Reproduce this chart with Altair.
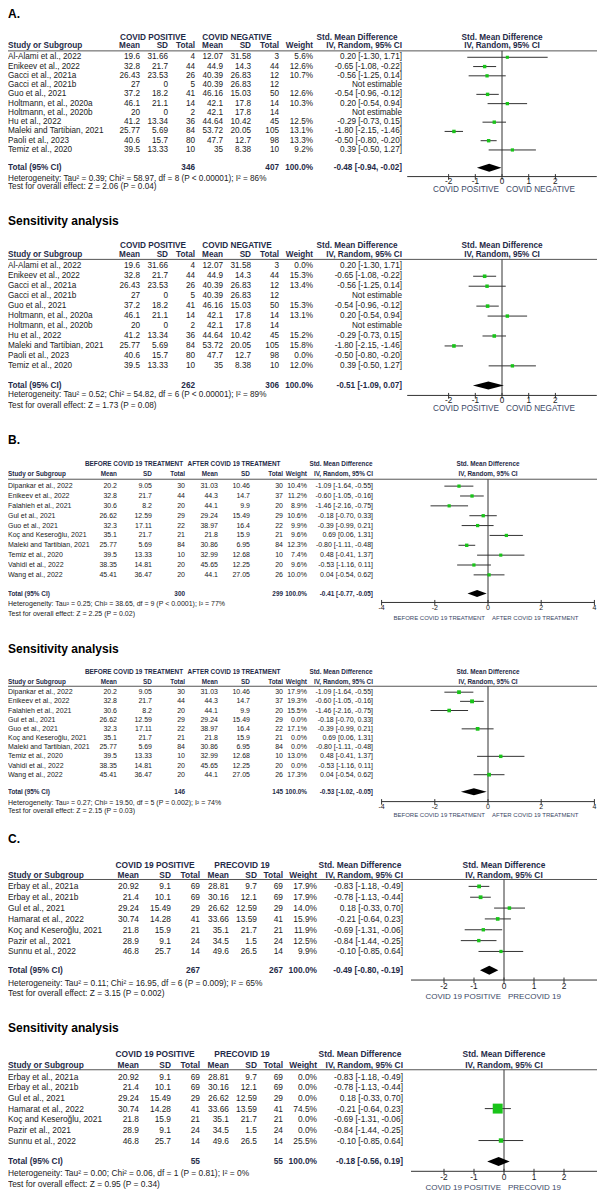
import altair as alt
import pandas as pd

# ======================= DATA =======================
# ---- A. COVID positive vs COVID negative ----
A_studies = ["Al-Alami et al., 2022", "Enikeev et al., 2022", "Gacci et al., 2021a", "Gacci et al., 2021b",
             "Guo et al., 2021", "Holtmann, et al., 2020a", "Holtmann, et al., 2020b", "Hu et al., 2022",
             "Maleki and Tartibian, 2021", "Paoli et al., 2023", "Temiz et al., 2020"]
A_pos_mean = [19.6, 32.8, 26.43, 27, 37.2, 46.1, 20, 41.2, 25.77, 40.6, 39.5]
A_pos_sd = [31.66, 21.7, 23.53, 0, 18.2, 21.1, 0, 13.34, 5.69, 15.7, 13.33]
A_pos_n = [4, 44, 26, 5, 41, 14, 2, 36, 84, 80, 10]
A_neg_mean = [12.07, 44.9, 40.39, 40.39, 46.16, 42.1, 42.1, 44.64, 53.72, 47.7, 35]
A_neg_sd = [31.58, 14.3, 26.83, 26.83, 15.03, 17.8, 17.8, 10.42, 20.05, 12.7, 8.38]
A_neg_n = [3, 44, 12, 12, 50, 14, 14, 45, 105, 98, 10]
A_smd = [0.20, -0.65, -0.56, None, -0.54, 0.20, None, -0.29, -1.80, -0.50, 0.39]
A_lo = [-1.30, -1.08, -1.25, None, -0.96, -0.54, None, -0.73, -2.15, -0.80, -0.50]
A_hi = [1.71, -0.22, 0.14, None, -0.12, 0.94, None, 0.15, -1.46, -0.20, 1.27]
A_weight = [5.6, 12.6, 10.7, None, 12.6, 10.3, None, 12.5, 13.1, 13.3, 9.2]
A_sens_weight = [0.0, 15.3, 13.4, None, 15.3, 13.1, None, 15.2, 15.8, 0.0, 12.0]
A_total_n = [346, 407]
A_total = [-0.48, -0.94, -0.02]
A_sens_total_n = [262, 306]
A_sens_total = [-0.51, -1.09, 0.07]
A_het = "Heterogeneity: Tau² = 0.39; Chi² = 58.97, df = 8 (P < 0.00001); I² = 86%"
A_test = "Test for overall effect: Z = 2.06 (P = 0.04)"
A_sens_het = "Heterogeneity: Tau² = 0.52; Chi² = 54.82, df = 6 (P < 0.00001); I² = 89%"
A_sens_test = "Test for overall effect: Z = 1.73 (P = 0.08)"
A_groups = ["COVID POSITIVE", "COVID NEGATIVE"]
A_ticks = [-2, -1, 0, 1, 2]

# ---- B. Before vs after COVID 19 treatment ----
B_studies = ["Dipankar et al., 2022", "Enikeev et al., 2022", "Falahieh et al., 2021", "Gul et al., 2021",
             "Guo et al., 2021", "Koç and Keseroğlu, 2021", "Maleki and Tartibian, 2021", "Temiz et al., 2020",
             "Vahidi et al., 2022", "Wang et al., 2022"]
B_before_mean = [20.2, 32.8, 30.6, 26.62, 32.3, 35.1, 25.77, 39.5, 38.35, 45.41]
B_before_sd = [9.05, 21.7, 8.2, 12.59, 17.11, 21.7, 5.69, 13.33, 14.81, 36.47]
B_before_n = [30, 44, 20, 29, 22, 21, 84, 10, 20, 20]
B_after_mean = [31.03, 44.3, 44.1, 29.24, 38.97, 21.8, 30.86, 32.99, 45.65, 44.1]
B_after_sd = [10.46, 14.7, 9.9, 15.49, 16.4, 15.9, 6.95, 12.68, 12.25, 27.05]
B_after_n = [30, 37, 20, 29, 22, 21, 84, 10, 20, 26]
B_smd = [-1.09, -0.60, -1.46, -0.18, -0.39, 0.69, -0.80, 0.48, -0.53, 0.04]
B_lo = [-1.64, -1.05, -2.16, -0.70, -0.99, 0.06, -1.11, -0.41, -1.16, -0.54]
B_hi = [-0.55, -0.16, -0.75, 0.33, 0.21, 1.31, -0.48, 1.37, 0.11, 0.62]
B_weight = [10.4, 11.2, 8.9, 10.6, 9.9, 9.6, 12.3, 7.4, 9.6, 10.0]
B_sens_weight = [17.9, 19.3, 15.5, 0.0, 17.1, 0.0, 0.0, 13.0, 0.0, 17.3]
B_total_n = [300, 299]
B_total = [-0.41, -0.77, -0.05]
B_sens_total_n = [146, 145]
B_sens_total = [-0.53, -1.02, -0.05]
B_het = "Heterogeneity: Tau² = 0.25; Chi² = 38.65, df = 9 (P < 0.0001); I² = 77%"
B_test = "Test for overall effect: Z = 2.25 (P = 0.02)"
B_sens_het = "Heterogeneity: Tau² = 0.27; Chi² = 19.50, df = 5 (P = 0.002); I² = 74%"
B_sens_test = "Test for overall effect: Z = 2.15 (P = 0.03)"
B_groups = ["BEFORE COVID 19 TREATMENT", "AFTER COVID 19 TREATMENT"]
B_ticks = [-4, -2, 0, 2, 4]

# ---- C. COVID 19 positive vs pre-COVID 19 ----
C_studies = ["Erbay et al., 2021a", "Erbay et al., 2021b", "Gul et al., 2021", "Hamarat et al., 2022",
             "Koç and Keseroğlu, 2021", "Pazir et al., 2021", "Sunnu et al., 2022"]
C_pos_mean = [20.92, 21.4, 29.24, 30.74, 21.8, 28.9, 46.8]
C_pos_sd = [9.1, 10.1, 15.49, 14.28, 15.9, 9.1, 25.7]
C_pos_n = [69, 69, 29, 41, 21, 24, 14]
C_pre_mean = [28.81, 30.16, 26.62, 33.66, 35.1, 34.5, 49.6]
C_pre_sd = [9.7, 12.1, 12.59, 13.59, 21.7, 1.5, 26.5]
C_pre_n = [69, 69, 29, 41, 21, 24, 14]
C_smd = [-0.83, -0.78, 0.18, -0.21, -0.69, -0.84, -0.10]
C_lo = [-1.18, -1.13, -0.33, -0.64, -1.31, -1.44, -0.85]
C_hi = [-0.49, -0.44, 0.70, 0.23, -0.06, -0.25, 0.64]
C_weight = [17.9, 17.9, 14.0, 15.9, 11.9, 12.5, 9.9]
C_sens_weight = [0.0, 0.0, 0.0, 74.5, 0.0, 0.0, 25.5]
C_total_n = [267, 267]
C_total = [-0.49, -0.80, -0.19]
C_sens_total_n = [55, 55]
C_sens_total = [-0.18, -0.56, 0.19]
C_het = "Heterogeneity: Tau² = 0.11; Chi² = 16.95, df = 6 (P = 0.009); I² = 65%"
C_test = "Test for overall effect: Z = 3.15 (P = 0.002)"
C_sens_het = "Heterogeneity: Tau² = 0.00; Chi² = 0.06, df = 1 (P = 0.81); I² = 0%"
C_sens_test = "Test for overall effect: Z = 0.95 (P = 0.34)"
C_groups = ["COVID 19 POSITIVE", "PRECOVID 19"]
C_ticks = [-2, -1, 0, 1, 2]

# ======================= STYLE / LAYOUT =======================
W, H = 589, 1184
SY = H / 1201.0
SANS = "Liberation Sans, Arial, sans-serif"
HEAD = "#1f2b48"
BODY = "#222222"
AXLAB = "#3b4866"
LINE = "#555555"
CICOL = "#333333"
GREEN = "#19c419"
SIZE_SCALE = alt.Scale(type="pow", exponent=2, domain=[0, 75], range=[9, 100])


def X(px):
    return max(px - 8.0, 0.0)


def Y(py):
    return py * SY


def fmt(v):
    return str(v)


def ci_str(e, l, h):
    return "%.2f [%.2f, %.2f]" % (e, l, h)


def one(s=""):
    return pd.DataFrame({"t": [s]})


def label(s, x, y, align="left", bold=False, size=8.2, color=BODY, font=SANS):
    return alt.Chart(one(s)).mark_text(
        align=align, baseline="middle", fontSize=size,
        fontWeight="bold" if bold else "normal", color=color, font=font
    ).encode(text="t:N", x=alt.value(x), y=alt.value(y))


LAY_A = dict(title=6, h1=30, h2=39, rule=43.5, row0=50, step=9.4, total=162, het=173, test=182,
             axis=171, ticklab=177, axlab=185, dh=4)
LAY_AS = dict(title=216, h1=241, h2=251, rule=255, row0=262, step=10.1, total=383, het=393, test=404,
              axis=393, ticklab=398.5, axlab=407, dh=4)
LAY_B = dict(title=438, h1=463, h2=473, rule=478, row0=485, step=10, total=594, het=605, test=615,
             axis=603, ticklab=609, axlab=619, dh=3.5)
LAY_BS = dict(title=650, h1=674, h2=684, rule=688, row0=694, step=9.3, total=795, het=806, test=815,
              axis=805, ticklab=810, axlab=819, dh=3.5)
LAY_C = dict(title=843, h1=869, h2=879, rule=884, row0=891, step=11, total=976, het=989, test=999,
             axis=986, ticklab=992, axlab=1003, dh=4.5)
LAY_CS = dict(title=1035, h1=1061, h2=1072, rule=1077, row0=1084, step=10.8, total=1170, het=1182, test=1193,
              axis=1180, ticklab=1186, axlab=1197, dh=4.5)

COL_A = dict(study=7, m1=140, s1=168, n1=195, m2=223, s2=251, n2=279, w=313, ci=402, g1=153, g2=237, smd=357)
COL_B = dict(study=5, m1=117, s1=152, n1=185, m2=218, s2=250, n2=283, w=307, ci=373, g1=134, g2=234, smd=341)
COL_C = dict(study=7, m1=139, s1=171, n1=200, m2=229, s2=257, n2=283, w=317, ci=403, g1=155, g2=242, smd=360)

FOREST_A = dict(zero=502, unit=26.7, lim=3.55)
FOREST_B = dict(zero=488, unit=26.6, lim=4.0)
FOREST_C = dict(zero=504, unit=30.0, lim=3.1)

SIZES_A = dict(fs=8.2, hfs=8.2, axfs=8.2)
SIZES_B = dict(fs=7.0, hfs=6.4, axfs=6.0)
SIZES_C = dict(fs=8.4, hfs=8.4, axfs=8.0)


def panel(title, studies, m1, s1, n1, m2, s2, n2, smd, lo, hi, weight, tot_n, tot, het, test,
          groups, ticks, lay, col, forest, sizes):
    font = SANS
    fs, hfs, axfs = sizes["fs"], sizes["hfs"], sizes["axfs"]
    n = len(studies)
    rows = pd.DataFrame({
        "study": studies,
        "m1": [fmt(v) for v in m1], "s1": [fmt(v) for v in s1], "n1": [fmt(v) for v in n1],
        "m2": [fmt(v) for v in m2], "s2": [fmt(v) for v in s2], "n2": [fmt(v) for v in n2],
        "ws": [("%.1f%%" % w) if w is not None else "" for w in weight],
        "ci": [ci_str(e, l, h) if e is not None else "Not estimable" for e, l, h in zip(smd, lo, hi)],
        "row": list(range(n)),
        "w": [w if w is not None else 0.0 for w in weight],
        "smd": [e if e is not None else float("nan") for e in smd],
        "lo": [e if e is not None else float("nan") for e in lo],
        "hi": [e if e is not None else float("nan") for e in hi],
    })
    ysc = alt.Scale(domain=[0, 1], range=[Y(lay["row0"]), Y(lay["row0"] + lay["step"])], zero=False, nice=False)
    z, u, L = forest["zero"], forest["unit"], forest["lim"]
    xsc = alt.Scale(domain=[-L, L], range=[z - 8 - L * u, z - 8 + L * u], zero=False, nice=False)
    yrow = alt.Y("row:Q", scale=ysc, axis=None)

    layers = []
    layers.append(label(title, 0, Y(lay["title"]), bold=True, size=12, color="#000000", font=SANS))

    # header line 1
    hy1, hy2 = Y(lay["h1"]), Y(lay["h2"])
    layers.append(label(groups[0], X(col["g1"]), hy1, align="center", bold=True, size=hfs, color=HEAD, font=font))
    layers.append(label(groups[1], X(col["g2"]), hy1, align="center", bold=True, size=hfs, color=HEAD, font=font))
    layers.append(label("Std. Mean Difference", X(col["smd"]), hy1, align="center", bold=True, size=hfs,
                        color=HEAD, font=font))
    zero_df = pd.DataFrame({"x": [0.0]})
    xz = alt.X("x:Q", scale=xsc, axis=None)
    for txt, yy in [("Std. Mean Difference", hy1), ("IV, Random, 95% CI", hy2)]:
        layers.append(alt.Chart(zero_df).mark_text(
            align="center", baseline="middle", fontSize=hfs, fontWeight="bold", color=HEAD, font=font
        ).encode(x=xz, y=alt.value(yy), text=alt.value(txt)))
    # header line 2
    layers.append(label("Study or Subgroup", X(col["study"]), hy2, bold=True, size=hfs, color=HEAD, font=font))
    for txt, key in [("Mean", "m1"), ("SD", "s1"), ("Total", "n1"), ("Mean", "m2"), ("SD", "s2"),
                     ("Total", "n2"), ("Weight", "w"), ("IV, Random, 95% CI", "ci")]:
        layers.append(label(txt, X(col[key]), hy2, align="right", bold=True, size=hfs, color=HEAD, font=font))
    # header rule
    layers.append(alt.Chart(one()).mark_rule(color=LINE, strokeWidth=1).encode(
        x=alt.value(0), x2=alt.value(W), y=alt.value(Y(lay["rule"]))))

    # study rows
    for key, align in [("study", "left"), ("m1", "right"), ("s1", "right"), ("n1", "right"),
                       ("m2", "right"), ("s2", "right"), ("n2", "right"), ("ws", "right"), ("ci", "right")]:
        ck = "w" if key == "ws" else key
        layers.append(alt.Chart(rows).mark_text(
            align=align, baseline="middle", fontSize=fs, color=BODY, font=font
        ).encode(text=key + ":N", x=alt.value(X(col[ck])), y=yrow))

    # total row
    ty = Y(lay["total"])
    layers.append(label("Total (95% CI)", X(col["study"]), ty, bold=True, size=hfs, color=HEAD, font=font))
    layers.append(label(str(tot_n[0]), X(col["n1"]), ty, align="right", bold=True, size=hfs, color=HEAD, font=font))
    layers.append(label(str(tot_n[1]), X(col["n2"]), ty, align="right", bold=True, size=hfs, color=HEAD, font=font))
    layers.append(label("100.0%", X(col["w"]), ty, align="right", bold=True, size=hfs, color=HEAD, font=font))
    layers.append(label(ci_str(*tot), X(col["ci"]), ty, align="right", bold=True, size=hfs, color=HEAD, font=font))
    layers.append(label(het, X(col["study"]), Y(lay["het"]), size=fs, color=BODY, font=font))
    layers.append(label(test, X(col["study"]), Y(lay["test"]), size=fs, color=BODY, font=font))

    # forest: zero line, axis, ticks
    layers.append(alt.Chart(zero_df).mark_rule(color=CICOL, strokeWidth=1).encode(
        x=xz, y=alt.value(Y(lay["rule"])), y2=alt.value(Y(lay["axis"]))))
    axis_df = pd.DataFrame({"a": [-L], "b": [L]})
    layers.append(alt.Chart(axis_df).mark_rule(color=CICOL, strokeWidth=1).encode(
        x=alt.X("a:Q", scale=xsc, axis=None), x2="b:Q", y=alt.value(Y(lay["axis"]))))
    tick_df = pd.DataFrame({"t": ticks, "lab": [str(t) for t in ticks]})
    layers.append(alt.Chart(tick_df).mark_rule(color=CICOL, strokeWidth=1).encode(
        x=alt.X("t:Q", scale=xsc, axis=None), y=alt.value(Y(lay["axis"]) - 2.5), y2=alt.value(Y(lay["axis"]) + 3)))
    layers.append(alt.Chart(tick_df).mark_text(baseline="middle", fontSize=fs, color=BODY, font=font).encode(
        x=alt.X("t:Q", scale=xsc, axis=None), y=alt.value(Y(lay["ticklab"])), text="lab:N"))
    layers.append(alt.Chart(zero_df).mark_text(align="right", dx=-3, baseline="middle", fontSize=axfs,
                                               color=AXLAB, font=font).encode(
        x=xz, y=alt.value(Y(lay["axlab"])), text=alt.value(groups[0])))
    layers.append(alt.Chart(zero_df).mark_text(align="left", dx=4, baseline="middle", fontSize=axfs,
                                               color=AXLAB, font=font).encode(
        x=xz, y=alt.value(Y(lay["axlab"])), text=alt.value(groups[1])))

    # confidence intervals and study squares
    marks = rows[(rows["w"] > 0) & rows["smd"].notna()]
    layers.append(alt.Chart(marks).mark_rule(color=CICOL, strokeWidth=1).encode(
        x=alt.X("lo:Q", scale=xsc, axis=None), x2="hi:Q", y=yrow))
    layers.append(alt.Chart(marks).mark_point(shape="square", filled=True, opacity=1, color=GREEN,
                                              strokeWidth=0).encode(
        x=alt.X("smd:Q", scale=xsc, axis=None), y=yrow,
        size=alt.Size("w:Q", scale=SIZE_SCALE, legend=None)))

    # pooled diamond
    t_idx = (lay["total"] - lay["row0"]) / lay["step"]
    hr = lay["dh"] / (lay["step"] * SY)
    est, l0, h0 = tot
    dia = pd.DataFrame({"dx": [l0, est, h0], "y1": [t_idx, t_idx - hr, t_idx], "y2": [t_idx, t_idx + hr, t_idx]})
    layers.append(alt.Chart(dia).mark_area(color="#000000", orient="vertical", opacity=1).encode(
        x=alt.X("dx:Q", scale=xsc, axis=None), y=alt.Y("y1:Q", scale=ysc, axis=None), y2="y2:Q"))

    return alt.layer(*layers)


panels = [
    panel("A.", A_studies, A_pos_mean, A_pos_sd, A_pos_n, A_neg_mean, A_neg_sd, A_neg_n, A_smd, A_lo, A_hi,
          A_weight, A_total_n, A_total, A_het, A_test, A_groups, A_ticks, LAY_A, COL_A, FOREST_A, SIZES_A),
    panel("Sensitivity analysis", A_studies, A_pos_mean, A_pos_sd, A_pos_n, A_neg_mean, A_neg_sd, A_neg_n,
          A_smd, A_lo, A_hi, A_sens_weight, A_sens_total_n, A_sens_total, A_sens_het, A_sens_test, A_groups,
          A_ticks, LAY_AS, COL_A, FOREST_A, SIZES_A),
    panel("B.", B_studies, B_before_mean, B_before_sd, B_before_n, B_after_mean, B_after_sd, B_after_n,
          B_smd, B_lo, B_hi, B_weight, B_total_n, B_total, B_het, B_test, B_groups, B_ticks,
          LAY_B, COL_B, FOREST_B, SIZES_B),
    panel("Sensitivity analysis", B_studies, B_before_mean, B_before_sd, B_before_n, B_after_mean, B_after_sd,
          B_after_n, B_smd, B_lo, B_hi, B_sens_weight, B_sens_total_n, B_sens_total, B_sens_het, B_sens_test,
          B_groups, B_ticks, LAY_BS, COL_B, FOREST_B, SIZES_B),
    panel("C.", C_studies, C_pos_mean, C_pos_sd, C_pos_n, C_pre_mean, C_pre_sd, C_pre_n, C_smd, C_lo, C_hi,
          C_weight, C_total_n, C_total, C_het, C_test, C_groups, C_ticks, LAY_C, COL_C, FOREST_C, SIZES_C),
    panel("Sensitivity analysis", C_studies, C_pos_mean, C_pos_sd, C_pos_n, C_pre_mean, C_pre_sd, C_pre_n,
          C_smd, C_lo, C_hi, C_sens_weight, C_sens_total_n, C_sens_total, C_sens_het, C_sens_test, C_groups,
          C_ticks, LAY_CS, COL_C, FOREST_C, SIZES_C),
]

chart = alt.layer(*panels).resolve_scale(x="independent", y="independent").properties(
    width=W, height=H, padding=0, autosize=alt.AutoSizeParams(type="none")
).configure_view(stroke=None)

chart.save("out.html", embed_options={"renderer": "svg", "actions": False})
